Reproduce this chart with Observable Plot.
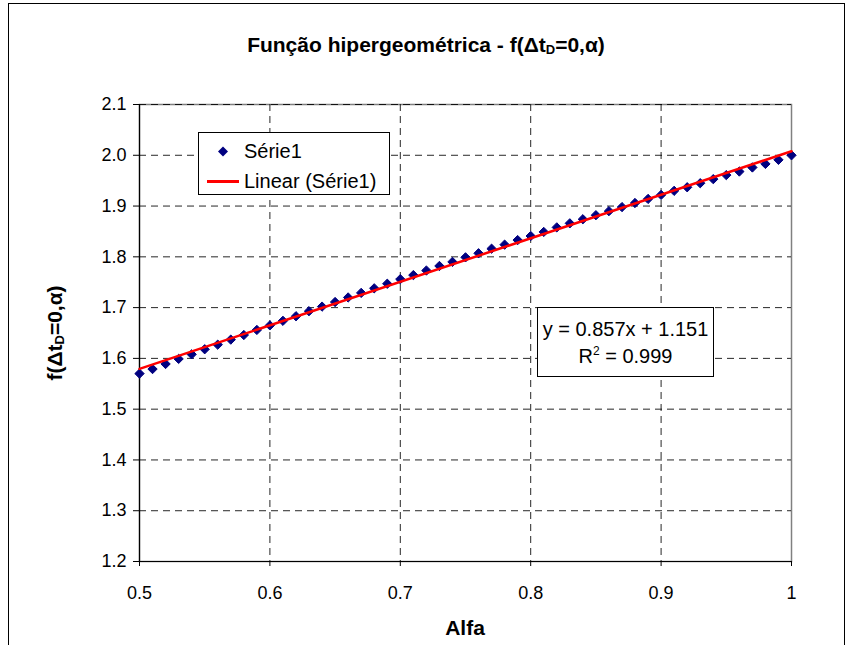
<!DOCTYPE html>
<html>
<head>
<meta charset="utf-8">
<script src="https://cdn.jsdelivr.net/npm/d3@7"></script>
<script src="https://cdn.jsdelivr.net/npm/@observablehq/plot@0.6"></script>
<style>
  html, body { margin: 0; padding: 0; background: #fff; }
  #wrap { position: relative; width: 852px; height: 645px; font-family: "Liberation Sans", Arial, sans-serif; overflow: hidden; }
  #frame { position: absolute; left: 8px; top: 3px; width: 837px; height: 700px; border: 1px solid #000; box-sizing: border-box; pointer-events: none; }
  .lbl { position: absolute; font-weight: bold; font-size: 21px; line-height: 24px; color: #000; white-space: nowrap; }
  #title { left: 0; width: 852px; top: 33px; text-align: center; }
  #xlabel { left: 139px; width: 652px; top: 616px; text-align: center; }
  #ylabel { left: 55px; top: 333px; transform: translate(-50%, -50%) rotate(-90deg); }
  sub { font-size: 13px; vertical-align: -2px; line-height: 0; }
  #legend { position: absolute; left: 198px; top: 132px; width: 192px; height: 63px; border: 1px solid #000; background: #fff; box-sizing: border-box; font-size: 20px; line-height: 23px; }
  #legend svg { position: absolute; left: 0; top: 0; }
  #legend span { position: absolute; left: 45px; top: 0; white-space: nowrap; }
  #eq { position: absolute; left: 537px; top: 307px; width: 177px; height: 70px; border: 1px solid #000; background: #fff; box-sizing: border-box; font-size: 20px; line-height: 23px; text-align: center; }
  #eq div { position: absolute; left: 0; width: 100%; white-space: nowrap; }
  #eq sup { font-size: 12px; vertical-align: 8px; line-height: 0; }
  #chart { position: absolute; left: 0; top: 0; }
  #chart svg text, #chart svg g[aria-label$="tick label"] { font-size: 18px !important; }
</style>
</head>
<body>
<div id="wrap">
  <div id="chart"></div>
  <div id="frame"></div>
  <div class="lbl" id="title"></div>
  <div class="lbl" id="xlabel"></div>
  <div class="lbl" id="ylabel"></div>
  <div id="legend"></div>
  <div id="eq"></div>
</div>
<script>
// ---- data ----
const alfa = [0.50,0.51,0.52,0.53,0.54,0.55,0.56,0.57,0.58,0.59,
              0.60,0.61,0.62,0.63,0.64,0.65,0.66,0.67,0.68,0.69,
              0.70,0.71,0.72,0.73,0.74,0.75,0.76,0.77,0.78,0.79,
              0.80,0.81,0.82,0.83,0.84,0.85,0.86,0.87,0.88,0.89,
              0.90,0.91,0.92,0.93,0.94,0.95,0.96,0.97,0.98,0.99,1.00];
const fValues = [1.570,1.579,1.589,1.599,1.608,1.618,1.627,1.637,1.646,1.656,
                 1.665,1.674,1.683,1.693,1.702,1.711,1.720,1.729,1.738,1.747,
                 1.756,1.764,1.773,1.782,1.790,1.799,1.807,1.816,1.824,1.833,
                 1.841,1.849,1.858,1.866,1.874,1.882,1.890,1.898,1.906,1.914,
                 1.922,1.930,1.937,1.945,1.953,1.961,1.968,1.976,1.983,1.991,2.000];
const xTicks = [0.5,0.6,0.7,0.8,0.9,1.0];
const yTicks = [1.2,1.3,1.4,1.5,1.6,1.7,1.8,1.9,2.0,2.1];
const seriesName = "Série1";
const trendName = "Linear (Série1)";
const titleText = 'Função hipergeométrica - f(Δt<sub>D</sub>=0,α)';
const xLabelText = "Alfa";
const yLabelText = 'f(Δt<sub>D</sub>=0,α)';
const eqLine1 = "y = 0.857x + 1.151";
const eqLine2 = 'R<sup>2</sup> = 0.999';

const data = alfa.map((a, i) => ({x: a, y: fValues[i]}));

const font = '"Liberation Sans", Arial, sans-serif';
const plot = Plot.plot({
  width: 852,
  height: 645,
  marginLeft: 139,
  marginRight: 61,
  marginTop: 104,
  marginBottom: 84,
  style: {fontFamily: font, fontSize: "18px", color: "#000", background: "transparent"},
  x: {domain: [0.5, 1], label: null},
  y: {domain: [1.2, 2.1], label: null},
  marks: [
    Plot.frame({stroke: "#808080", strokeWidth: 1.5}),
    Plot.gridX(xTicks.slice(1, -1), {stroke: "#000", strokeOpacity: 0.85, strokeDasharray: "7,5"}),
    Plot.gridY(yTicks.slice(1), {stroke: "#000", strokeOpacity: 0.85, strokeDasharray: "7,5"}),
    Plot.ruleX([0.5], {stroke: "#000", strokeWidth: 1.2}),
    Plot.ruleY([1.2], {stroke: "#000", strokeWidth: 1.2}),
    Plot.axisX({ticks: xTicks, tickSize: 5, tickPadding: 20, fontSize: 18, label: null,
                tickFormat: d => d === 1 ? "1" : d.toFixed(1)}),
    Plot.axisY({ticks: yTicks, tickSize: 6, tickPadding: 7, fontSize: 18, label: null,
                tickFormat: d => d.toFixed(1)}),
    Plot.dot(data, {x: "x", y: "y", symbol: "diamond2", r: 4.2, fill: "#000080", stroke: "#000080", strokeWidth: 1}),
    Plot.linearRegressionY(data, {x: "x", y: "y", stroke: "#ff0000", strokeWidth: 2.5, ci: 0})
  ]
});
document.getElementById("chart").appendChild(plot);

document.getElementById("title").innerHTML = titleText;
document.getElementById("xlabel").textContent = xLabelText;
document.getElementById("ylabel").innerHTML = yLabelText;

const legend = document.getElementById("legend");
legend.innerHTML =
  '<svg width="190" height="61">' +
  '<path d="M24,13.5 L29,18.5 L24,23.5 L19,18.5 Z" fill="#000080"/>' +
  '<line x1="8" y1="48.5" x2="40" y2="48.5" stroke="#ff0000" stroke-width="3"/>' +
  '</svg>' +
  '<span style="top:7px">' + seriesName + '</span>' +
  '<span style="top:37px">' + trendName + '</span>';

const eq = document.getElementById("eq");
eq.innerHTML = '<div style="top:10px">' + eqLine1 + '</div><div style="top:37px">' + eqLine2 + '</div>';
</script>
</body>
</html>
